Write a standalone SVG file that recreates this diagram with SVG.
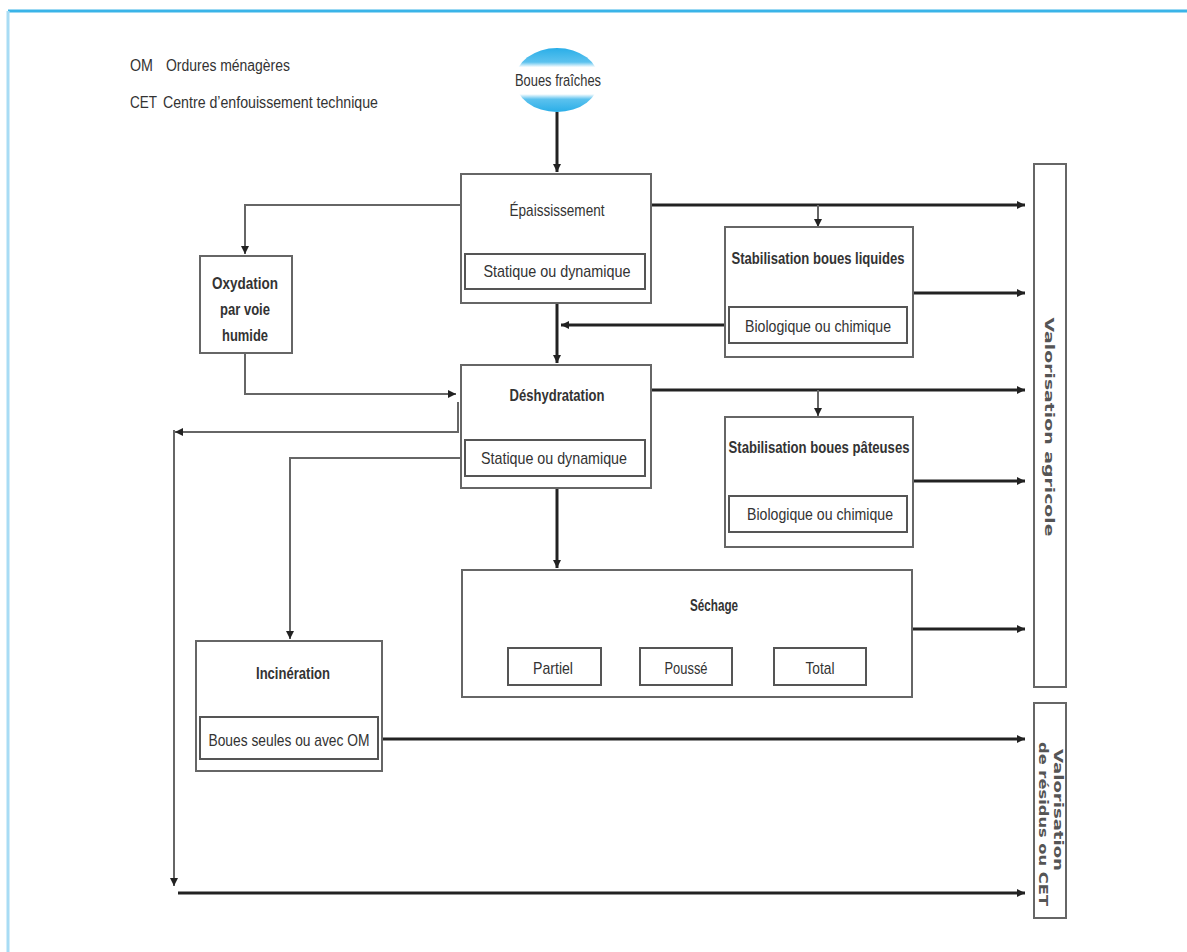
<svg xmlns="http://www.w3.org/2000/svg" width="1187" height="952" viewBox="0 0 1187 952">
<style>
.box{fill:#fff;stroke:#666;stroke-width:2}
.inner{fill:#fff;stroke:#555;stroke-width:2}
.t{font-family:"Liberation Sans",Arial,sans-serif;font-size:17px;fill:#333;text-anchor:middle}
.b{font-weight:bold}
.leg{font-family:"Liberation Sans",Arial,sans-serif;font-size:16px;fill:#333}
.thick{fill:none;stroke:#222;stroke-width:3}
.thin{fill:none;stroke:#666;stroke-width:2}
.v{font-family:"DejaVu Sans",sans-serif;font-size:13px;font-weight:bold;fill:#555;text-anchor:middle}
</style>
<defs>
<marker id="ah" viewBox="0 0 10 10" refX="10" refY="5" markerWidth="10" markerHeight="8" markerUnits="userSpaceOnUse" orient="auto">
<path d="M0,0 L10,5 L0,10 z" fill="#222"/>
</marker>
<linearGradient id="eg" x1="0" y1="0" x2="0" y2="1">
<stop offset="0" stop-color="#2aaee8"/>
<stop offset="0.22" stop-color="#5cc2ee"/>
<stop offset="0.3" stop-color="#ffffff"/>
<stop offset="0.72" stop-color="#ffffff"/>
<stop offset="0.8" stop-color="#5cc2ee"/>
<stop offset="1" stop-color="#2aaee8"/>
</linearGradient>
</defs>
<rect width="1187" height="952" fill="#fff"/>
<line x1="8" y1="11" x2="1187" y2="11" stroke="#3ab4e8" stroke-width="3"/>
<line x1="8" y1="11" x2="8" y2="952" stroke="#a8dcf4" stroke-width="3"/>

<g id="legend">
<text class="leg" x="130" y="71" textLength="23" lengthAdjust="spacingAndGlyphs">OM</text>
<text class="leg" x="166" y="71" textLength="124" lengthAdjust="spacingAndGlyphs">Ordures ménagères</text>
<text class="leg" x="130" y="108" textLength="27" lengthAdjust="spacingAndGlyphs">CET</text>
<text class="leg" x="163" y="108" textLength="215" lengthAdjust="spacingAndGlyphs">Centre d’enfouissement technique</text>
</g>

<g id="connectors">
<line class="thick" x1="557" y1="112" x2="557" y2="172" marker-end="url(#ah)"/>
<line class="thick" x1="651" y1="205" x2="1025" y2="205" marker-end="url(#ah)"/>
<line class="thin" x1="818" y1="205" x2="818" y2="227" marker-end="url(#ah)"/>
<line class="thick" x1="913" y1="293" x2="1025" y2="293" marker-end="url(#ah)"/>
<line class="thick" x1="725" y1="325" x2="561" y2="325" marker-end="url(#ah)"/>
<line class="thick" x1="557" y1="303" x2="557" y2="363" marker-end="url(#ah)"/>
<polyline class="thin" points="461,205 245,205 245,254" marker-end="url(#ah)"/>
<polyline class="thin" points="245,353 245,394 456,394" marker-end="url(#ah)"/>
<polyline class="thin" points="458,402 458,432 175,432" marker-end="url(#ah)"/>
<line class="thin" x1="174" y1="430" x2="174" y2="886" marker-end="url(#ah)"/>
<line class="thick" x1="178" y1="893" x2="1025" y2="893" marker-end="url(#ah)"/>
<polyline class="thin" points="461,458 290,458 290,639" marker-end="url(#ah)"/>
<line class="thick" x1="651" y1="390" x2="1025" y2="390" marker-end="url(#ah)"/>
<line class="thin" x1="818" y1="390" x2="818" y2="416" marker-end="url(#ah)"/>
<line class="thick" x1="913" y1="481" x2="1025" y2="481" marker-end="url(#ah)"/>
<line class="thick" x1="557" y1="488" x2="557" y2="568" marker-end="url(#ah)"/>
<line class="thick" x1="912" y1="629" x2="1025" y2="629" marker-end="url(#ah)"/>
<line class="thick" x1="382" y1="739" x2="1025" y2="739" marker-end="url(#ah)"/>
</g>

<g id="boues-fraiches">
<ellipse cx="557" cy="80" rx="42" ry="32" fill="url(#eg)"/>
<text class="t" x="558" y="86" textLength="86" lengthAdjust="spacingAndGlyphs">Boues fraîches</text>
</g>

<g id="epaississement">
<rect class="box" x="461" y="174" width="190" height="129"/>
<text class="t" x="557" y="216" textLength="95" lengthAdjust="spacingAndGlyphs">Épaississement</text>
<rect class="inner" x="465" y="254" width="180" height="35"/>
<text class="t" x="557" y="277" textLength="147" lengthAdjust="spacingAndGlyphs">Statique ou dynamique</text>
</g>

<g id="stab-liquides">
<rect class="box" x="725" y="227" width="188" height="130"/>
<text class="t b" x="818" y="264" textLength="173" lengthAdjust="spacingAndGlyphs">Stabilisation boues liquides</text>
<rect class="inner" x="729" y="307" width="178" height="36"/>
<text class="t" x="818" y="332" textLength="146" lengthAdjust="spacingAndGlyphs">Biologique ou chimique</text>
</g>

<g id="oxydation">
<rect class="box" x="200" y="256" width="92" height="97"/>
<text class="t b" x="245" y="289" textLength="66" lengthAdjust="spacingAndGlyphs">Oxydation</text>
<text class="t b" x="245" y="315" textLength="50" lengthAdjust="spacingAndGlyphs">par voie</text>
<text class="t b" x="245" y="341" textLength="46" lengthAdjust="spacingAndGlyphs">humide</text>
</g>

<g id="deshydratation">
<rect class="box" x="461" y="365" width="190" height="123"/>
<text class="t b" x="557" y="401" textLength="95" lengthAdjust="spacingAndGlyphs">Déshydratation</text>
<rect class="inner" x="465" y="440" width="180" height="36"/>
<text class="t" x="554" y="464" textLength="146" lengthAdjust="spacingAndGlyphs">Statique ou dynamique</text>
</g>

<g id="stab-pateuses">
<rect class="box" x="725" y="417" width="188" height="130"/>
<text class="t b" x="819" y="453" textLength="181" lengthAdjust="spacingAndGlyphs">Stabilisation boues pâteuses</text>
<rect class="inner" x="729" y="496" width="178" height="36"/>
<text class="t" x="820" y="520" textLength="146" lengthAdjust="spacingAndGlyphs">Biologique ou chimique</text>
</g>

<g id="sechage">
<rect class="box" x="462" y="570" width="450" height="127"/>
<text class="t b" x="714" y="611" textLength="48" lengthAdjust="spacingAndGlyphs">Séchage</text>
<rect class="inner" x="508" y="648" width="93" height="37"/>
<text class="t" x="553" y="674" textLength="40" lengthAdjust="spacingAndGlyphs">Partiel</text>
<rect class="inner" x="640" y="648" width="92" height="37"/>
<text class="t" x="686" y="674" textLength="43" lengthAdjust="spacingAndGlyphs">Poussé</text>
<rect class="inner" x="774" y="648" width="92" height="37"/>
<text class="t" x="820" y="674" textLength="29" lengthAdjust="spacingAndGlyphs">Total</text>
</g>

<g id="incineration">
<rect class="box" x="196" y="641" width="186" height="130"/>
<text class="t b" x="293" y="679" textLength="74" lengthAdjust="spacingAndGlyphs">Incinération</text>
<rect class="inner" x="200" y="717" width="178" height="42"/>
<text class="t" x="289" y="746" textLength="161" lengthAdjust="spacingAndGlyphs">Boues seules ou avec OM</text>
</g>

<g id="valorisation-agricole">
<rect class="box" x="1034" y="164" width="32" height="523"/>
<text class="v" transform="translate(1045,427) rotate(90)" textLength="219" lengthAdjust="spacingAndGlyphs">Valorisation agricole</text>
</g>

<g id="valorisation-residus">
<rect class="box" x="1034" y="703" width="32" height="215"/>
<text class="v" transform="translate(1054,810) rotate(90)" textLength="122" lengthAdjust="spacingAndGlyphs">Valorisation</text>
<text class="v" transform="translate(1039,824) rotate(90)" textLength="164" lengthAdjust="spacingAndGlyphs">de résidus ou CET</text>
</g>
</svg>
